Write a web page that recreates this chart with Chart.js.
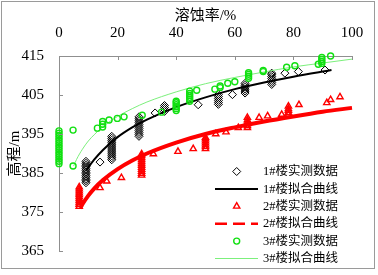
<!DOCTYPE html>
<html><head><meta charset="utf-8">
<script src="https://cdn.jsdelivr.net/npm/chart.js@4/dist/chart.umd.min.js"></script>
<style>html,body{margin:0;padding:0;background:#fff}#wrap{width:378px;height:275px;position:relative}</style>
</head><body><div id="wrap"><canvas id="c" width="378" height="275"></canvas></div>
<script>
const xTitle = '溶蚀率/%';
const yTitle = '高程/m';
const xTicks = [0, 20, 40, 60, 80, 100];
const yTicks = [365, 375, 385, 395, 405, 415];
const seriesNames = ['1#楼实测数据', '1#楼拟合曲线', '2#楼实测数据', '2#楼拟合曲线', '3#楼实测数据', '3#楼拟合曲线'];

// 1# building measured (x = dissolution rate %, y = elevation m)
const b1Measured = [
  [9.2,382.5],[9.2,383.0],[9.2,383.4],[9.2,383.9],[9.2,384.3],[9.2,384.8],[9.2,385.2],[9.2,385.7],[9.2,386.1],[9.2,386.6],[9.2,387.0],[9.2,387.5],[9.2,388.0],
  [14,387.8],
  [18,388.4],[18,388.9],[18,389.4],[18,389.9],[18,390.4],[18,390.9],[18,391.4],[18,391.9],[18,392.4],[18,392.9],[18,393.4],[18,393.9],[18,394.4],
  [27.3,394.4],[27.3,394.9],[27.3,395.4],[27.3,395.9],[27.3,396.4],[27.3,396.9],[27.3,397.4],[27.3,397.9],[27.3,398.4],[27.3,398.9],[27.3,399.4],
  [32.8,400.4],
  [36,400.8],[36,401.3],[36,401.8],[36,402.3],
  [47.5,402.5],
  [54.4,402.6],[54.4,403.1],[54.4,403.6],[54.4,404.1],[54.4,404.6],[54.4,405.1],
  [59.2,405.1],
  [63.5,405.5],[63.5,406.0],[63.5,406.5],[63.5,407.0],[63.5,407.5],[63.5,408.0],
  [72.6,407.7],[72.6,408.2],[72.6,408.7],[72.6,409.2],[72.6,409.7],[72.6,410.2],[72.6,410.6],
  [77.1,410.6],[81.7,411.0],[90.8,411.4]
];
const b1Fit = [[9.4,385.7],[10,386.4],[12,388.4],[15,390.9],[20,394.2],[25,396.7],[30,398.7],[40,401.9],[50,404.4],[60,406.5],[70,408.2],[80,409.7],[93,411.4]];

const b2Measured = [
  [6.9,376.4],[6.9,376.9],[6.9,377.4],[6.9,377.9],[6.9,378.4],[6.9,378.9],[6.9,379.4],[6.9,379.9],[6.9,380.4],[6.9,380.9],[6.9,381.4],
  [14,381.2],[16.3,382.9],[21.3,383.8],
  [28.2,384.4],[28.2,384.9],[28.2,385.4],[28.2,385.9],[28.2,386.4],[28.2,386.9],[28.2,387.4],[28.2,387.9],[28.2,388.4],[28.2,388.9],[28.2,389.4],[28.2,389.9],
  [32.2,389.9],[40.6,390.5],[45.8,391.2],
  [50,391.2],[50,391.7],[50,392.2],[50,392.7],[50,393.2],[50,393.7],[50,394.1],
  [53.5,395.0],[57,395.5],[61.2,396.6],
  [64.3,396.6],[64.3,397.1],[64.3,397.6],[64.3,398.1],[64.3,398.6],[64.3,399.2],
  [68.3,399.2],[71.2,399.6],[76,400.0],
  [78.3,400.0],[78.3,400.5],[78.3,401.0],[78.3,401.5],[78.3,402.1],
  [81.9,402.5],[91.4,403.0],[92.7,403.8],[95.9,404.5]
];
const b2Fit = [[7.2,376.0],[8,377.0],[10,379.2],[12,381.0],[15,383.2],[20,386.0],[25,388.2],[30,390.0],[40,392.8],[50,395.0],[60,396.7],[70,398.2],[80,399.5],[90,400.7],[100,401.7]];

const b3Measured = [
  [0,387.4],[0,388.0],[0,388.6],[0,389.2],[0,389.8],[0,390.4],[0,391.0],[0,391.6],[0,392.2],[0,392.8],[0,393.4],[0,394.0],[0,394.6],[0,395.2],[0,395.8],
  [4.8,396.0],[4.8,386.8],
  [13.1,396.5],[14.9,396.8],[14.9,397.5],[14.9,398.2],[17.1,398.6],[19.9,399.0],[22.2,399.4],[28.4,399.8],[35,400.6],
  [40,401.0],[40,401.5],[40,402.0],[40,402.5],[40,403.0],[40,403.4],
  [44.6,403.4],[44.6,403.9],[44.6,404.4],[44.6,404.9],[44.6,405.4],[44.6,406.0],
  [47,406.2],[53.2,406.5],[55,406.9],[55,407.3],[57.6,408.0],[60,408.4],
  [64.7,409.3],[64.7,409.8],[64.7,410.3],[64.7,410.7],
  [69.7,411.0],[69.7,411.3],[77.7,412.1],[80.5,412.5],[88.5,412.9],
  [89.7,413.1],[89.7,413.6],[89.7,414.1],[89.7,414.6],[92.7,415.0]
];
const b3Fit = [[5,386.8],[6,388.5],[8,391.1],[10,393.2],[12,394.8],[15,396.9],[20,399.5],[25,401.5],[30,403.2],[40,405.8],[50,407.9],[60,409.5],[70,410.9],[80,412.2],[90,413.2],[100,414.2]];

const toXY = a => a.map(p => ({x: p[0], y: p[1]}));
const LATIN_CJK = "'Liberation Serif','Noto Sans CJK SC'";
const AXIS_COLOR = '#8f8f8f';

const datasets = [
  {label: seriesNames[0], data: toXY(b1Measured), pointStyle: 'rectRot', pointRadius: 4, borderColor: '#000', backgroundColor: 'rgba(0,0,0,0)', borderWidth: 1, showLine: false, clip: false, order: 3},
  {label: seriesNames[1], data: toXY(b1Fit), showLine: true, pointRadius: 0, borderColor: '#000', borderWidth: 2, cubicInterpolationMode: 'monotone', clip: false, order: 2},
  {label: seriesNames[2], data: toXY(b2Measured), pointStyle: 'triangle', pointRadius: 3.6, borderColor: '#ff0000', backgroundColor: 'rgba(0,0,0,0)', borderWidth: 1.4, showLine: false, clip: false, order: 3},
  {label: seriesNames[3], data: toXY(b2Fit), showLine: true, pointRadius: 0, borderColor: '#ff0000', borderWidth: 4, cubicInterpolationMode: 'monotone', clip: false, order: 2, legendDash: [12, 6], legendWidth: 2.5},
  {label: seriesNames[4], data: toXY(b3Measured), pointStyle: 'circle', pointRadius: 3, borderColor: '#11e011', backgroundColor: 'rgba(0,0,0,0)', borderWidth: 1.4, showLine: false, clip: false, order: 1},
  {label: seriesNames[5], data: toXY(b3Fit), showLine: true, pointRadius: 0, borderColor: '#7cf07c', borderWidth: 1, cubicInterpolationMode: 'monotone', clip: false, order: 2}
];

const frame = {
  id: 'frame',
  beforeDraw(chart) {
    const ctx = chart.ctx;
    ctx.save();
    ctx.fillStyle = '#fff';
    ctx.fillRect(0, 0, chart.width, chart.height);
    ctx.restore();
  },
  afterDraw(chart) {
    const ctx = chart.ctx;
    const xs = chart.scales.x, ys = chart.scales.y;
    ctx.save();
    ctx.strokeStyle = '#9a9a9a';
    ctx.lineWidth = 1;
    ctx.strokeRect(1.5, 1.5, 373, 267);
    ctx.strokeStyle = AXIS_COLOR;
    ctx.beginPath();
    yTicks.forEach(v => {
      const py = Math.round(ys.getPixelForValue(v)) + 0.5;
      ctx.moveTo(xs.left, py); ctx.lineTo(xs.left + 4, py);
    });
    xTicks.forEach(v => {
      const px = Math.round(xs.getPixelForValue(v)) + 0.5;
      ctx.moveTo(px, ys.top); ctx.lineTo(px, ys.top + 4);
    });
    ctx.stroke();
    // legend
    const x0 = 215, x1 = 258, xc = 236.7, tx = 263;
    let y = 171.5;
    ctx.font = "12.5px " + LATIN_CJK;
    ctx.textBaseline = 'middle';
    ctx.textAlign = 'left';
    chart.data.datasets.forEach(ds => {
      if (ds.showLine) {
        ctx.save();
        ctx.strokeStyle = ds.borderColor;
        ctx.lineWidth = ds.legendWidth || ds.borderWidth;
        ctx.setLineDash(ds.legendDash || []);
        ctx.beginPath();
        ctx.moveTo(x0, y); ctx.lineTo(x1, y);
        ctx.stroke();
        ctx.restore();
      } else {
        ctx.save();
        ctx.strokeStyle = ds.borderColor;
        ctx.fillStyle = 'rgba(0,0,0,0)';
        ctx.lineWidth = ds.borderWidth;
        Chart.helpers.drawPoint(ctx, {pointStyle: ds.pointStyle, radius: ds.pointRadius, borderWidth: ds.borderWidth, rotation: 0}, xc, y);
        ctx.restore();
      }
      ctx.fillStyle = '#000';
      ctx.fillText(ds.label, tx, y + 0.5);
      y += 17.4;
    });
    ctx.restore();
  }
};

new Chart(document.getElementById('c'), {
  type: 'scatter',
  data: {datasets},
  options: {
    responsive: false,
    animation: false,
    devicePixelRatio: 1,
    layout: {padding: {left: 0, top: 0, right: 26, bottom: 22}},
    plugins: {legend: {display: false}, tooltip: {enabled: false}},
    scales: {
      x: {
        type: 'linear', position: 'top', min: 0, max: 100,
        afterBuildTicks: s => { s.ticks = xTicks.map(v => ({value: v})); },
        afterFit: s => { s.height = 56; },
        grid: {display: false, drawTicks: false},
        border: {display: true, color: AXIS_COLOR, width: 1},
        ticks: {padding: 14, color: '#000', font: {family: LATIN_CJK, size: 15}},
        title: {display: true, text: xTitle, color: '#000', font: {family: LATIN_CJK, size: 15}, padding: {top: 7, bottom: 0}}
      },
      y: {
        type: 'linear', position: 'left', min: 365, max: 415,
        afterBuildTicks: s => { s.ticks = yTicks.map(v => ({value: v})); },
        afterFit: s => { s.width = 59; },
        grid: {display: false, drawTicks: false},
        border: {display: true, color: AXIS_COLOR, width: 1},
        ticks: {padding: 15, color: '#000', font: {family: LATIN_CJK, size: 15}},
        title: {display: true, text: yTitle, color: '#000', font: {family: LATIN_CJK, size: 15}, padding: {top: 6, bottom: 0}}
      }
    }
  },
  plugins: [frame]
});
</script>
</body></html>
